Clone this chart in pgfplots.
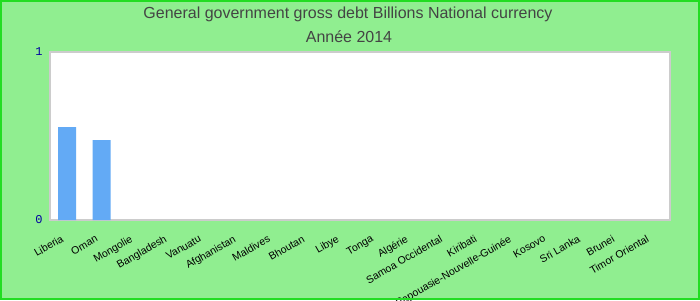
\documentclass[border=0pt]{standalone}
\usepackage{pgfplots}
\pgfplotsset{compat=1.18}
\usepackage{fontspec}
\setmainfont{Liberation Sans}
\newfontfamily\monofont{Liberation Mono}
\definecolor{bgc}{RGB}{144,238,144}
\definecolor{brd}{RGB}{34,221,34}
\definecolor{barc}{RGB}{99,170,245}
\definecolor{titc}{RGB}{68,68,68}
\definecolor{ytc}{RGB}{0,0,160}
\begin{document}
\begin{tikzpicture}[x=1bp,y=1bp]
\useasboundingbox (0,0) rectangle (700,300);
\clip (0,0) rectangle (700,300);
\fill[bgc] (0,0) rectangle (700,300);
\node[font=\fontsize{16bp}{18bp}\selectfont,text=titc] at (348,286) {General government gross debt Billions National currency};
\node[font=\fontsize{16bp}{18bp}\selectfont,text=titc] at (349,263) {Année 2014};
\begin{axis}[
  at={(50bp,80bp)}, anchor=south west,
  width=620bp, height=168bp, scale only axis,
  axis background/.style={fill=white},
  axis line style={draw=black!20,line width=1.2bp},
  xmin=-0.5, xmax=17.5, ymin=0, ymax=1,
  ytick={0,1},
  xtick={0,...,17},
  xticklabels={Liberia,Oman,Mongolie,Bangladesh,Vanuatu,Afghanistan,Maldives,Bhoutan,Libye,Tonga,Algérie,Samoa Occidental,Kiribati,Papouasie-Nouvelle-Guinée,Kosovo,Sri Lanka,Brunei,Timor Oriental},
  major tick length=0pt,
  xticklabel style={rotate=30, anchor=north east, font=\fontsize{10.5bp}{12bp}\selectfont, xshift=-13bp, yshift=-9bp, inner sep=0pt},
  yticklabel style={/pgf/number format/assume math mode=true, font=\monofont\fontsize{12bp}{13bp}\selectfont, text=ytc, xshift=-4bp},
  ybar, bar width=18bp,
]
\addplot[fill=barc, draw=none] coordinates {(0,0.553) (1,0.476)};
\end{axis}
\draw[brd,line width=2bp] (1,1) rectangle (699,299);
\end{tikzpicture}
\end{document}
